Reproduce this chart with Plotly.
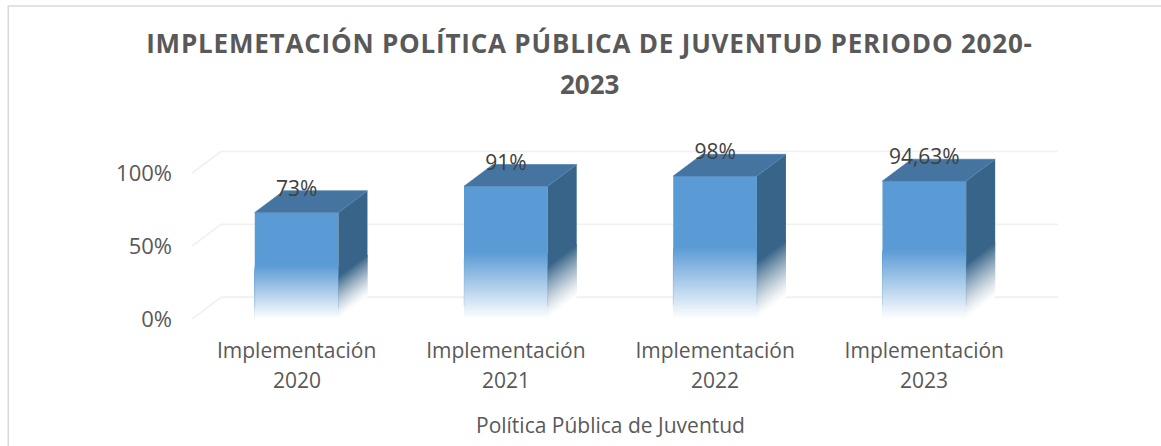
import plotly.graph_objects as go

CATEGORIES = ["Implementación", "Implementación", "Implementación", "Implementación"]
YEARS = ["2020", "2021", "2022", "2023"]
VALUES = [0.73, 0.91, 0.98, 0.9463]
VALUE_LABELS = ["73%", "91%", "98%", "94,63%"]
TICKS = [0, 0.5, 1.0]
TICK_LABELS = ["0%", "50%", "100%"]
TITLE_LINES = ["IMPLEMETACIÓN POLÍTICA PÚBLICA DE JUVENTUD PERIODO 2020-", "2023"]
AXIS_TITLE = "Política Pública de Juventud"

W, H = 1161, 446
L, R, T, B = 192.3, 1058.5, 144.3, 319.0   # plot area in pixels
FONT = "Open Sans"
TXT = "#595959"
LBL = "#404040"
FRONT = (91, 155, 213)
SIDE = (55, 100, 136)
TOP = "#44749F"
GRID = "#F1F1F1"
BORDER = "#D9D9D9"

BAR_W = 0.4
DX = 0.1386   # depth of the 3D box, x units
DY = 0.149    # depth of the 3D box, y units
NB = 50
FRONT_FADE = 0.5
SIDE_FADE = 0.4
xs = list(range(len(VALUES)))
x_max = 3.639


def blend(c, a):
    return "rgb(%d,%d,%d)" % tuple(round(255 + (v - 255) * a) for v in c)


def px_x(p):
    return (p - L) / (R - L)


def px_y(p):
    return (B - p) / (B - T)


fig = go.Figure()

# back wall gridlines
shapes = []
for t in TICKS:
    shapes.append(dict(
        type="path", layer="below", xref="x", yref="y",
        path=f"M -0.5 {t} L {-0.5 + DX} {t + DY} L {x_max} {t + DY}",
        line=dict(color=GRID, width=1.8), fillcolor="rgba(0,0,0,0)"))

# chart frame: only the left and top edges fall inside the picture
shapes.append(dict(
    type="path", layer="below", xref="paper", yref="paper",
    path=f"M {px_x(8.5)} {px_y(H + 2)} L {px_x(8.5)} {px_y(6.5)} L {px_x(W + 2)} {px_y(6.5)}",
    line=dict(color=BORDER, width=1.5), fillcolor="rgba(0,0,0,0)"))

# front faces: full bar, then nested lighter bars down to the base
fig.add_bar(x=xs, y=VALUES, width=BAR_W, marker=dict(color=blend(FRONT, 1), line_width=0),
            hoverinfo="skip", showlegend=False)
for i in range(NB - 1, -1, -1):
    fig.add_bar(x=xs, y=[v * FRONT_FADE * (i + 1) / NB for v in VALUES], width=BAR_W,
                marker=dict(color=blend(FRONT, (i + 0.5) / NB), line_width=0),
                hoverinfo="skip", showlegend=False)


def side_trace(low, high, color):
    px, py = [], []
    for x, v in zip(xs, VALUES):
        r = x + BAR_W / 2
        a, b = v * low, v * high
        px += [r, r + DX, r + DX, r, r, None]
        py += [a, a + DY, b + DY, b, a, None]
    fig.add_scatter(x=px, y=py, mode="lines", fill="toself", fillcolor=color,
                    line=dict(width=0), hoverinfo="skip", showlegend=False,
                    cliponaxis=False)


# side faces: slices parallel to the bottom edge, each overlapped by the next lighter one
side_trace(SIDE_FADE * (NB - 2) / NB, 1.0, blend(SIDE, 1))
for i in range(NB - 1, -1, -1):
    side_trace(SIDE_FADE * max(i - 1, 0) / NB, SIDE_FADE * (i + 1) / NB,
               blend(SIDE, ((i + 0.5) / NB) ** 1.3))

# faint rim on the fading part of the front edges
px, py = [], []
for x, v in zip(xs, VALUES):
    for e in (x - BAR_W / 2, x + BAR_W / 2):
        px += [e, e, None]
        py += [v * 0.1, v * 0.46, None]
fig.add_scatter(x=px, y=py, mode="lines", line=dict(color="rgba(91,155,213,0.25)", width=1),
                hoverinfo="skip", showlegend=False)

# top faces
px, py = [], []
for x, v in zip(xs, VALUES):
    l, r = x - BAR_W / 2, x + BAR_W / 2
    px += [l, r, r + DX, l + DX, l, None]
    py += [v, v, v + DY, v + DY, v, None]
fig.add_scatter(x=px, y=py, mode="lines", fill="toself", fillcolor=TOP,
                line=dict(width=0.75, color="#4F82B0"), hoverinfo="skip", showlegend=False,
                cliponaxis=False)

# data labels
fig.add_scatter(x=xs, y=[v + 0.15 for v in VALUES], mode="text", text=VALUE_LABELS,
                textposition="middle center", textfont=dict(family=FONT, size=21, color=LBL),
                hoverinfo="skip", showlegend=False, cliponaxis=False)

annotations = [
    dict(x=x, y=0, xref="x", yref="paper", text=yr, showarrow=False, yshift=-61, yanchor="middle",
         font=dict(family=FONT, size=21, color=TXT))
    for x, yr in zip(xs, YEARS)
]
annotations.append(dict(x=1.5, y=0, xref="x", yref="paper", text=AXIS_TITLE, showarrow=False,
                        yshift=-106, yanchor="middle", font=dict(family=FONT, size=21, color=TXT)))
annotations.append(dict(x=px_x(589.5), y=px_y(84), xref="paper", yref="paper", text=TITLE_LINES[1],
                        showarrow=False, yanchor="middle",
                        font=dict(family=FONT, size=26, color=TXT, weight="bold")))

fig.update_layout(
    width=W, height=H, barmode="overlay", paper_bgcolor="white", plot_bgcolor="white",
    margin=dict(l=L, r=W - R, t=T, b=H - B, pad=0),
    title=dict(text=TITLE_LINES[0], x=589.5 / W, xanchor="center", y=1 - 44 / H, yanchor="middle",
               font=dict(family=FONT, size=26, color=TXT, weight="bold")),
    shapes=shapes,
    annotations=annotations,
    xaxis=dict(range=[-0.5, x_max], tickmode="array", tickvals=xs, ticktext=CATEGORIES,
               showgrid=False, zeroline=False, showline=False, ticks="",
               ticklabelstandoff=17, tickfont=dict(family=FONT, size=21, color=TXT)),
    yaxis=dict(range=[0, 1.2], tickmode="array", tickvals=TICKS, ticktext=TICK_LABELS,
               showgrid=False, zeroline=False, showline=False, ticks="",
               ticklabelstandoff=19, tickfont=dict(family=FONT, size=22, color=TXT)),
)

post = """
document.documentElement.style.margin='0';document.body.style.margin='0';document.body.style.overflow='hidden';
document.querySelectorAll('.gtitle').forEach(function(t){t.style.letterSpacing='0.8px';});
"""
fig.write_html("out.html", post_script=post, config=dict(displayModeBar=False))
